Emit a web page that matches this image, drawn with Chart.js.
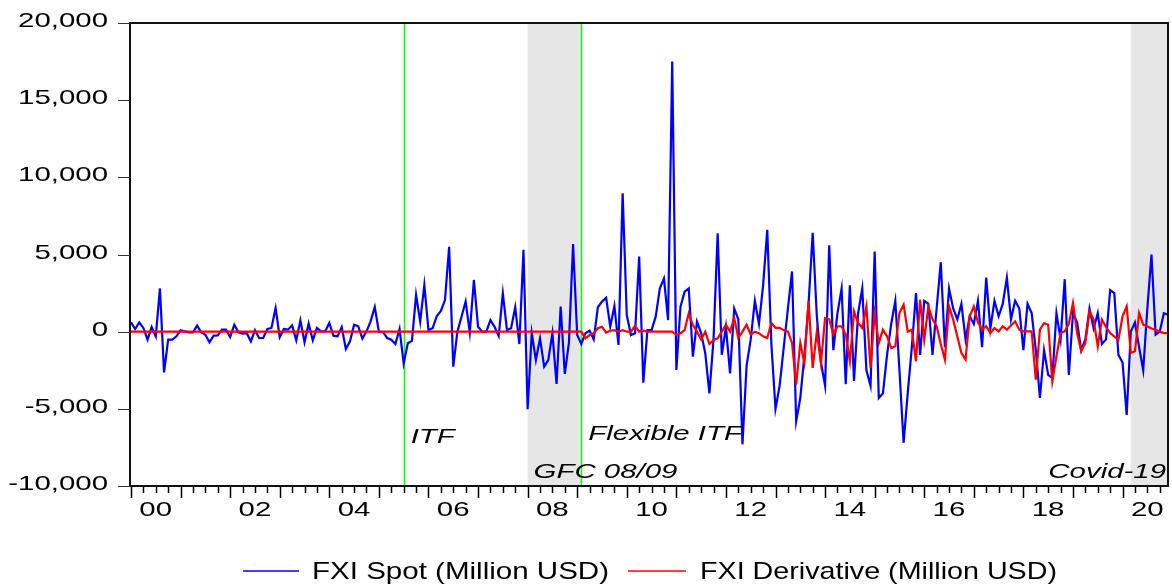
<!DOCTYPE html>
<html>
<head>
<meta charset="utf-8">
<script src="https://cdn.jsdelivr.net/npm/chart.js@4.4.1/dist/chart.umd.min.js"></script>
<style>
  html, body { margin: 0; padding: 0; background: #fff; }
  #wrap { width: 1172px; height: 584px; position: relative; }
</style>
</head>
<body>
<div id="wrap"><canvas id="fxi_chart"></canvas></div>
<script>
// monthly obs 2000M01 - 2020M12
const years = [2000, 2001, 2002, 2003, 2004, 2005, 2006, 2007, 2008, 2009, 2010,
  2011, 2012, 2013, 2014, 2015, 2016, 2017, 2018, 2019, 2020];
const year_labels = ["00", "02", "04", "06", "08", "10", "12", "14", "16", "18", "20"];
const y_ticks = [20000, 15000, 10000, 5000, 0, -5000, -10000];

// FXI Spot (Million USD)
const spot_values = [
  600, 170, 600, 240, -520, 300, -300, 2800, -2640, -520, -520, -300,
  90, 20, -40, -40, 390, -40, -200, -690, -260, -240, 130, 130,
  -350, 450, -40, -130, -90, -630, 90, -410, -410, 170, 240, 1530,
  -350, 170, 130, 410, -560, 730, -690, 520, -560, 240, 20, 20,
  560, -260, -300, 300, -1120, -630, 450, 350, -450, 20, 670, 1600,
  0, -20, -410, -520, -800, 170, -2050, -750, -600, 2380, 650, 3020,
  100, 220, 1000, 1340, 2050, 5500, -2270, 0, 970, 1950, -60, 3350,
  320, 0, 0, 750, 320, -280, 2480, 100, 220, 1580, -800, 5300,
  -5030, -100, -1840, -430, -2270, -1840, -100, -3390, 1620, -2740, -710, 5680,
  -220, -800, -100, 65, -500, 1580, 1950, 2200, 320, 1660, -860, 8960,
  1080, -220, -100, 4860, -3300, 100, 100, 970, 2800, 3450, 750, 17500,
  -2480, 1620, 2590, 2800, -1620, 650, -100, -1400, -4000, -500, 6370, -1500,
  300, -2700, 1500, 800, -7300, -2200, -500, 2000, 500, 3000, 6600, -800,
  -5000, -3500, -1000, 1500, 3900, -5800, -4300, -1500, 1800, 6400, 1000, -2000,
  -3500, 5600, -1200, 1200, 2800, -3400, 3000, -3200, 1200, 2800, -2500, -3500,
  5200, -4300, -4000, -1500, 500, 2000, -2500, -7200, -4000, -1000, 2500, -1500,
  2000, 1800, -1500, 1500, 4500, -1000, 2800, 1500, 800, 1800, -500, 1000,
  500, 2000, -1000, 3500, 200, 2000, 1000, 1800, 3500, 800, 2000, 1500,
  -1200, 1800, 1200, -1200, -4300, -1200, -2800, -3000, 1200, -500, 3400, -2800,
  1200, 600, -1200, -500, 1500, 200, 1200, -800, -500, 2700, 2500, -1500,
  -2000, -5400, 0, 600, -1000, -2500, 1500, 5000, -200, 0, 1200, 1100
];

// FXI Derivative (Million USD)
const derivative_values = [
  0, 0, 0, 0, 0, 0, 0, 0, 0, 0, 0, 0,
  0, 0, 0, 0, 0, 0, 0, 0, 0, 0, 0, 0,
  0, 0, 0, 0, 0, 0, 0, 0, 0, 0, 0, 0,
  0, 0, 0, 0, 0, 0, 0, 0, 0, 0, 0, 0,
  0, 0, 0, 0, 0, 0, 0, 0, 0, 0, 0, 0,
  0, 0, 0, 0, 0, 0, 0, 0, 0, 0, 0, 0,
  0, 0, 0, 0, 0, 0, 0, 0, 0, 0, 0, 0,
  0, 0, 0, 0, 0, 0, 0, 0, 0, 0, 0, 0,
  0, 0, 0, 0, 0, 0, 0, 0, 0, 0, 0, 0,
  0, 0, -430, -220, -100, 220, 320, -60, 60, 100, 0, 100,
  0, 0, 370, 0, 60, 0, 0, 0, 0, 0, 0, 0,
  -220, -100, 100, 1190, 430, 0, -500, 0, -800, -540, -430, 0,
  450, 0, 890, -410, 0, 450, -190, 0, -100, -300, -410, 560,
  250, 250, 100, 0, -730, -3430, -730, -2030, 2000, -2350, 0, -2030,
  890, 800, -190, 350, 350, -190, -1920, 1320, 560, 240, 1640, -2350,
  1200, -730, 130, -300, -1060, -950, 1210, 1750, 0, 130, -1920, 2070,
  -520, 1640, 800, 350, -800, -1810, 1640, 780, -300, -1380, -1810, 1000,
  1640, 600, 130, 350, -90, 240, 20, 350, 130, 400, 670, 130,
  20, 20, 20, -3110, 130, 560, 450, -3220, -1600, -90, 20, 500,
  1860, -90, -1270, -730, 1320, 780, -950, 780, 300, -90, -300, -520,
  1000, 1640, -1380, -1270, 1210, 450, 350, 200, 130, 0, -90, -90
];

// shaded periods and policy dates, as month index from 2000M01
const gfc_period = [96, 109];
const covid_period = [242, 251];
const policy_lines = [66, 109];

const months = [];
years.forEach((y) => {
  for (let m = 1; m <= 12; m++) months.push(y + "M" + m);
});

const SX = 1.4; // eviews export has wide glyphs
const tick_font = "21px 'Liberation Sans', Arial, sans-serif";
const note_font = "italic 21px 'Liberation Sans', Arial, sans-serif";
const legend_font = "24px 'Liberation Sans', Arial, sans-serif";

function wideText(ctx, text, x, y, font, align, sx) {
  ctx.save();
  ctx.font = font;
  const w = ctx.measureText(text).width * sx;
  let left = x;
  if (align == "right") left = x - w;
  if (align == "center") left = x - w / 2;
  ctx.translate(left, y);
  ctx.scale(sx, 1);
  ctx.textAlign = "left";
  ctx.textBaseline = "alphabetic";
  ctx.fillStyle = "#000";
  ctx.fillText(text, 0, 0);
  ctx.restore();
}

function fitText(ctx, text, x, y, font, width) {
  ctx.save();
  ctx.font = font;
  const sx = width / ctx.measureText(text).width;
  ctx.restore();
  wideText(ctx, text, x, y, font, "left", sx);
}

const decorations = {
  id: "decorations",
  beforeDatasetsDraw(chart) {
    const { ctx, chartArea: a, scales } = chart;
    const x = scales.x;
    ctx.save();
    ctx.fillStyle = "#e6e6e6";
    [gfc_period, covid_period].forEach((p) => {
      const x0 = x.getPixelForValue(p[0]);
      const x1 = x.getPixelForValue(p[1]);
      ctx.fillRect(x0, a.top, x1 - x0, a.bottom - a.top);
    });
    ctx.strokeStyle = "#00ff00";
    ctx.lineWidth = 1.5;
    policy_lines.forEach((i) => {
      const px = Math.round(x.getPixelForValue(i)) + 0.5;
      ctx.beginPath();
      ctx.moveTo(px, a.top);
      ctx.lineTo(px, a.bottom);
      ctx.stroke();
    });
    ctx.restore();
  },
  afterDatasetsDraw(chart) {
    const { ctx, chartArea: a, scales } = chart;
    const x = scales.x, y = scales.y;
    ctx.save();

    // frame
    ctx.strokeStyle = "#111";
    ctx.lineWidth = 2;
    ctx.strokeRect(a.left - 1, a.top, a.right - a.left + 1, a.bottom - a.top);

    // y ticks + labels
    ctx.lineWidth = 1;
    ctx.strokeStyle = "#333";
    y_ticks.forEach((v) => {
      const py = Math.round(y.getPixelForValue(v)) + 0.5;
      ctx.beginPath();
      ctx.moveTo(a.left - 13, py);
      ctx.lineTo(a.left - 1, py);
      ctx.stroke();
      wideText(ctx, v.toLocaleString("en-US"), 108, py + 3, tick_font, "right", SX);
    });

    // x ticks: quarters, longer at year start
    ctx.strokeStyle = "#000";
    ctx.lineWidth = 1.5;
    for (let i = 0; i < months.length; i += 3) {
      const px = Math.round(x.getPixelForValue(i)) + 0.5;
      ctx.beginPath();
      ctx.moveTo(px, a.bottom);
      ctx.lineTo(px, a.bottom + (i % 12 == 0 ? 12 : 7));
      ctx.stroke();
    }
    year_labels.forEach((lab, k) => {
      const px = x.getPixelForValue(k * 24 + 5.5);
      wideText(ctx, lab, px + 2, 516, tick_font, "center", SX);
    });

    // regime / event notes
    wideText(ctx, "ITF", x.getPixelForValue(policy_lines[0]) + 7, 443, note_font, "left", SX);
    wideText(ctx, "Flexible ITF", x.getPixelForValue(policy_lines[1]) + 7, 440, note_font, "left", SX);
    wideText(ctx, "GFC 08/09", x.getPixelForValue(gfc_period[0]) + 6, 478, note_font, "left", SX);
    wideText(ctx, "Covid-19", a.right - 2, 478, note_font, "right", SX);

    // legend
    const ly = 571;
    ctx.lineWidth = 1.5;
    ctx.strokeStyle = "#0000ff";
    ctx.beginPath(); ctx.moveTo(243, ly); ctx.lineTo(299, ly); ctx.stroke();
    fitText(ctx, "FXI Spot (Million USD)", 312, 579, legend_font, 297);
    ctx.strokeStyle = "#ff0000";
    ctx.beginPath(); ctx.moveTo(628, ly); ctx.lineTo(686, ly); ctx.stroke();
    fitText(ctx, "FXI Derivative (Million USD)", 700, 579, legend_font, 357);

    ctx.restore();
  },
};

const ctx = document.getElementById("fxi_chart").getContext("2d");
new Chart(ctx, {
  type: "line",
  data: {
    labels: months,
    datasets: [
      {
        label: "FXI Spot (Million USD)",
        data: spot_values,
        borderColor: "#0000ff",
        borderWidth: 2.2,
        pointRadius: 0,
        tension: 0,
        order: 2,
      },
      {
        label: "FXI Derivative (Million USD)",
        data: derivative_values,
        borderColor: "#ff0000",
        borderWidth: 2.2,
        pointRadius: 0,
        tension: 0,
        order: 1,
      },
    ],
  },
  options: {
    responsive: true,
    maintainAspectRatio: false,
    animation: false,
    layout: { padding: { left: 131, right: 4, top: 23, bottom: 98 } },
    scales: {
      x: { type: "category", display: false, offset: false },
      y: { type: "linear", display: false, min: -10000, max: 20000 },
    },
    plugins: {
      legend: { display: false },
      tooltip: { enabled: false },
    },
  },
  plugins: [decorations],
});
</script>
</body>
</html>
